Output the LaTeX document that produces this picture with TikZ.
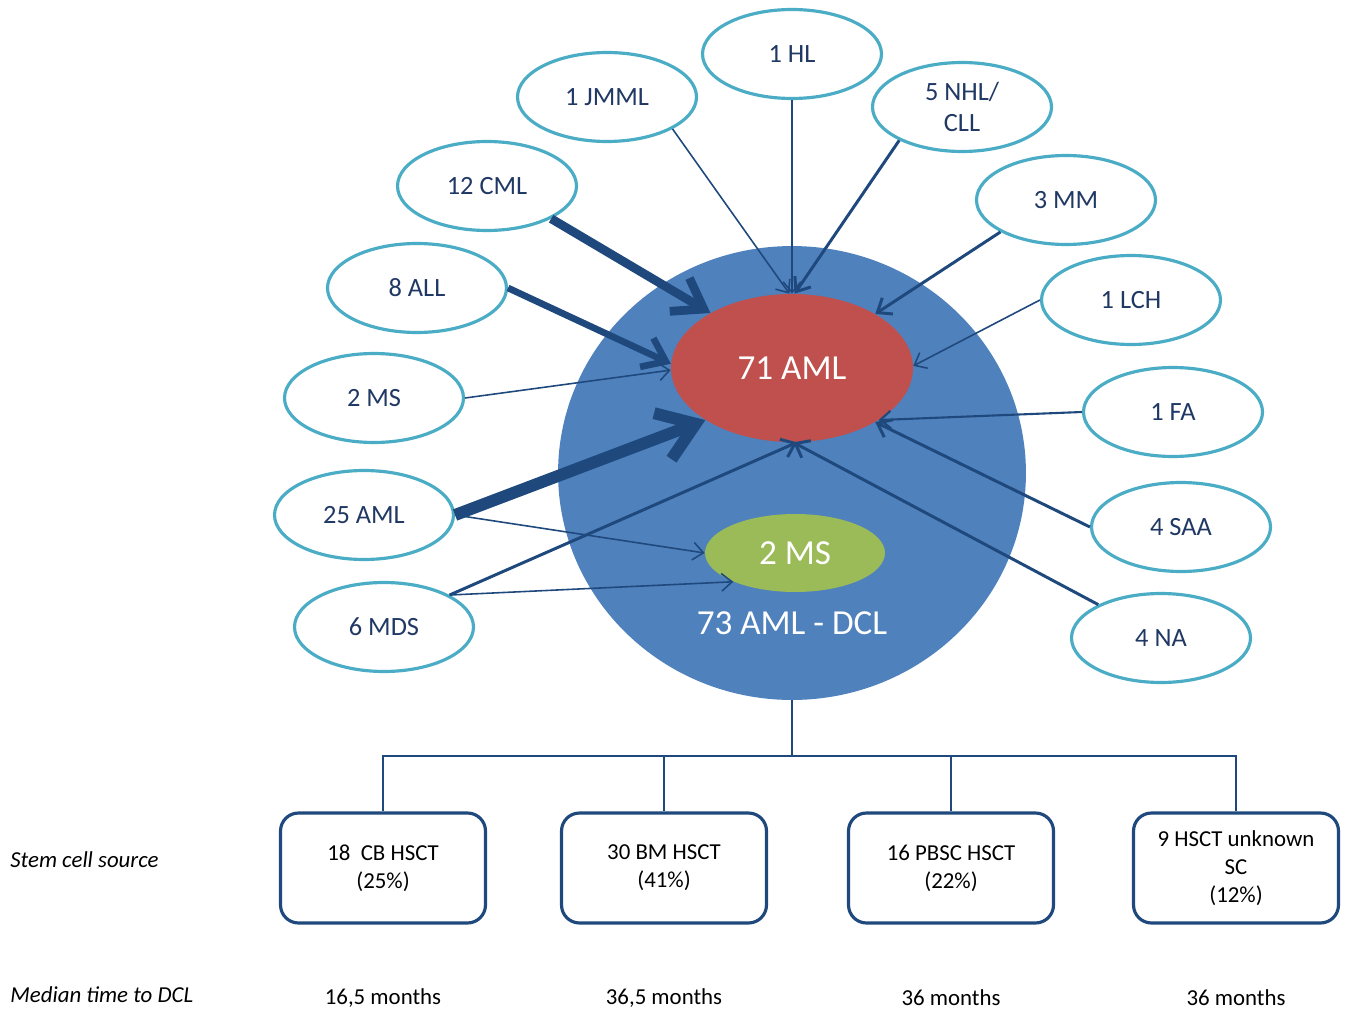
\documentclass[tikz,border=0pt]{standalone}
\usepackage{fontspec}
\setmainfont{Carlito}
\usepackage{xcolor}
\usetikzlibrary{shapes.geometric, positioning, arrows.meta}

\definecolor{dclblue}{RGB}{79,129,189}
\definecolor{amlred}{RGB}{192,80,77}
\definecolor{msgreen}{RGB}{155,187,89}
\definecolor{ringteal}{RGB}{75,172,198}
\definecolor{navy}{RGB}{31,73,125}
\definecolor{labelnavy}{RGB}{32,56,100}

\tikzset{
    prior/.style = {ellipse, draw = ringteal, line width = 1.8pt, fill = white,
        minimum width = 3.58cm, minimum height = 1.78cm, inner sep = 0pt,
        align = center, text = labelnavy, font = \fontsize{15}{18}\selectfont},
    core/.style = {ellipse, inner sep = 0pt, text = white,
        font = \fontsize{20}{24}\selectfont},
    source/.style = {rectangle, rounded corners = 0.36cm, draw = navy,
        line width = 1.8pt, minimum width = 4.1cm, minimum height = 2.2cm,
        align = center, font = \fontsize{13}{16}\selectfont},
    rowtext/.style = {font = \fontsize{13}{16}\selectfont},
    tree/.style = {draw = navy, line width = 0.9pt},
    link/.style = {draw = navy, line width = 0.9pt,
        -{Straight Barb[length = 6pt, width = 10pt]}},
    links/.style = {draw = navy, line width = 1.2pt,
        -{Straight Barb[length = 6pt, width = 10pt]}},
    linkm/.style = {draw = navy, line width = 1.7pt,
        -{Straight Barb[length = 7pt, width = 11pt]}},
    linkl/.style = {draw = navy, line width = 3.8pt,
        -{Straight Barb[length = 12pt, width = 18pt]}},
    linkxl/.style = {draw = navy, line width = 5pt,
        -{Straight Barb[length = 16pt, width = 22pt]}},
    linkxxl/.style = {draw = navy, line width = 6.8pt,
        -{Straight Barb[length = 20pt, width = 28pt]}}
}

\begin{document}
\begin{tikzpicture} [x = 0.02cm, y = -0.02cm, node distance = 2.6cm, on grid]
    \useasboundingbox (0,0) rectangle (1352,1010);

    % centre: all DCL cases
    \node (dcl) [ellipse, fill = dclblue, minimum width = 9.36cm,
        minimum height = 9.08cm, inner sep = 0pt] at (792,473) {};
    \node (aml) [core, fill = amlred, minimum width = 4.84cm,
        minimum height = 2.96cm] at (792,368) {71 AML};
    \node (msg) [core, fill = msgreen, minimum width = 3.6cm,
        minimum height = 1.56cm] at (795,553) {2 MS};
    \node (dcllabel) [core] at (792,623) {73 AML - DCL};

    % primary diagnoses
    \node (hl) [prior] at (792,54) {1 HL};
    \node (jmml) [prior] at (607,97) {1 JMML};
    \node (cml) [prior] at (487,186) {12 CML};
    \node (all) [prior] at (417,288) {8 ALL};
    \node (ms) [prior] at (374,398) {2 MS};
    \node (aml25) [prior] at (364,515) {25 AML};
    \node (mds) [prior] at (384,627) {6 MDS};
    \node (nhl) [prior] at (962,107) {5 NHL/\\CLL};
    \node (mm) [prior] at (1066,200) {3 MM};
    \node (lch) [prior] at (1131,300) {1 LCH};
    \node (fa) [prior] at (1173,412) {1 FA};
    \node (saa) [prior] at (1181,527) {4 SAA};
    \node (na) [prior] at (1161,638) {4 NA};

    \path
        (jmml.-26) edge [link] (aml.92)
        (hl) edge [link] (aml.90)
        (nhl.208) edge [linkm] (aml.88)
        (cml.-27) edge [linkxl] (aml.146)
        (all.east) edge [linkl] (aml.178)
        (ms.east) edge [link] (aml.181)
        (aml25.east) edge [linkxxl] (aml.211)
        (aml25.east) edge [link] (msg.180)
        (mds.26) edge [linkm] (aml.274)
        (mds.26) edge [link] (msg.205)
        (mm.206) edge [linkm] (aml.33)
        (lch.west) edge [link] (aml.1)
        (fa.west) edge [links] (aml.329)
        (saa.west) edge [linkm] (aml.327)
        (na.152) edge [linkm] (aml.271);

    % stem cell source
    \node (cb) [source] at (383,868) {18~~CB HSCT\\(25\%)};
    \node (bm) [source] at (664,868) {30 BM HSCT\\(41\%)};
    \node (pbsc) [source] at (951,868) {16 PBSC HSCT\\(22\%)};
    \node (unk) [source] at (1236,868) {9 HSCT unknown\\SC\\(12\%)};

    \coordinate (split) at (792,756);
    \draw [tree] (dcl.south) -- (split);
    \draw [tree] (split) -| (cb.north) (split) -| (bm.north)
        (split) -| (pbsc.north) (split) -| (unk.north);

    \node (sourcerow) [rowtext, anchor = west, inner sep = 0pt] at (10,860) {\itshape Stem cell source};
    \node (timerow) [rowtext, anchor = west, inner sep = 0pt] at (10,995) {\itshape Median time to DCL};

    \node (cbtime) [rowtext, below = of cb] {16,5 months};
    \node (bmtime) [rowtext, below = of bm] {36,5 months};
    \node (pbsctime) [rowtext, below = of pbsc] {36 months};
    \node (unktime) [rowtext, below = of unk] {36 months};
\end{tikzpicture}
\end{document}
